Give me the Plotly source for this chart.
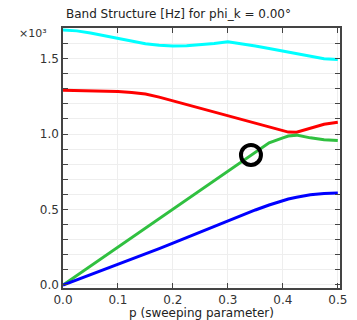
import plotly.graph_objects as go

p = [0, 0.025, 0.05, 0.075, 0.1, 0.125, 0.15, 0.175, 0.2, 0.225, 0.25, 0.275,
     0.3, 0.325, 0.35, 0.375, 0.4, 0.41, 0.425, 0.44, 0.45, 0.475, 0.5]

band_cyan = [1.690, 1.684, 1.670, 1.652, 1.632, 1.612, 1.598, 1.588, 1.584, 1.586, 1.592, 1.601,
             1.611, 1.598, 1.584, 1.567, 1.550, 1.543, 1.532, 1.521, 1.514, 1.499, 1.494]
band_red = [1.290, 1.289, 1.288, 1.286, 1.282, 1.276, 1.265, 1.245, 1.220, 1.196, 1.172, 1.147,
            1.122, 1.097, 1.072, 1.046, 1.020, 1.013, 1.012, 1.028, 1.040, 1.065, 1.078]
band_green = [0.0, 0.063, 0.126, 0.189, 0.252, 0.315, 0.378, 0.441, 0.504, 0.567, 0.630, 0.693,
              0.756, 0.819, 0.882, 0.942, 0.975, 0.987, 0.993, 0.982, 0.975, 0.963, 0.958]
band_blue = [0.0, 0.034, 0.068, 0.102, 0.135, 0.170, 0.205, 0.241, 0.277, 0.314, 0.351, 0.389,
             0.427, 0.463, 0.497, 0.530, 0.560, 0.570, 0.582, 0.593, 0.598, 0.606, 0.609]

marker_p = [0.342]
marker_f = [0.862]

fig = go.Figure()
for ys, col in [(band_cyan, "#00ffff"), (band_red, "#ff0000"),
                (band_green, "#30c040"), (band_blue, "#0000ff")]:
    fig.add_trace(go.Scatter(x=p, y=ys, mode="lines",
                             line=dict(color=col, width=3), showlegend=False))

fig.add_trace(go.Scatter(x=marker_p, y=marker_f, mode="markers", showlegend=False,
                         marker=dict(symbol="circle-open", size=20, color="black",
                                     line=dict(width=4, color="black"))))

axis_common = dict(
    showline=True, linecolor="#444", linewidth=1.5, mirror="ticks",
    ticks="inside", ticklen=5, tickcolor="#444", tickwidth=1,
    showgrid=True, gridcolor="#eeeeee", gridwidth=1, zeroline=False,
    tickfont=dict(family="DejaVu Sans", size=12, color="#333"),
    tickformat=".1f", automargin=False,
)

fig.update_xaxes(range=[0, 0.504], dtick=0.1, tick0=0, **axis_common,
                 title=dict(text="p (sweeping parameter)", standoff=1,
                            font=dict(family="DejaVu Sans", size=12, color="#222")))
fig.update_yaxes(range=[-0.02, 1.703], dtick=0.5, tick0=0, **axis_common,
                 minor=dict(dtick=0.1, tick0=0, ticks="inside", ticklen=5,
                            tickcolor="#444", showgrid=True, gridcolor="#eeeeee"))

fig.update_layout(
    width=357, height=320,
    margin=dict(l=63, r=17, t=28, b=32),
    plot_bgcolor="white", paper_bgcolor="white",
    title=dict(text="Band Structure [Hz] for phi_k = 0.00°", x=0.5, xref="container",
               xanchor="center", y=0.956, yanchor="middle", automargin=False,
               font=dict(family="DejaVu Sans", size=12, color="#222")),
    annotations=[dict(text="×10³", xref="paper", yref="paper", x=-0.05, y=1.0,
                      xanchor="right", yanchor="middle", yshift=-5, showarrow=False,
                      font=dict(family="DejaVu Sans", size=11, color="#333"))],
)

fig.write_html("out.html", config={"displayModeBar": False},
               post_script="document.body.style.margin='0px';")
